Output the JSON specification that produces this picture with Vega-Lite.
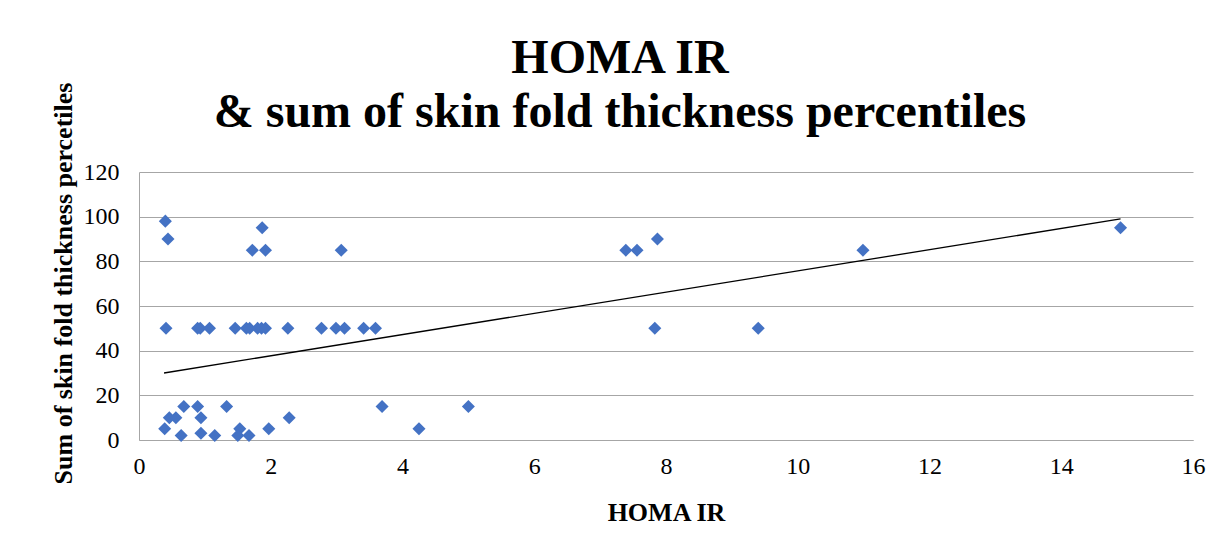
{
  "$schema": "https://vega.github.io/schema/vega-lite/v6.json",
  "width": 1054,
  "height": 268,
  "autosize": {"type": "none"},
  "padding": {"left": 139, "top": 172, "right": 34, "bottom": 113},
  "background": "white",
  "title": {
    "text": ["HOMA IR", "& sum of skin fold thickness percentiles"],
    "font": "Liberation Serif",
    "fontSize": 48,
    "fontWeight": "bold",
    "color": "black",
    "lineHeight": 54,
    "anchor": "middle",
    "frame": "group",
    "dx": -46,
    "dy": 55,
    "offset": 0
  },
  "datasets": {
    "points": [
      {"homa": 0.40, "skin": 98},
      {"homa": 0.44, "skin": 90},
      {"homa": 1.87, "skin": 95},
      {"homa": 1.72, "skin": 85},
      {"homa": 1.92, "skin": 85},
      {"homa": 3.07, "skin": 85},
      {"homa": 7.39, "skin": 85},
      {"homa": 7.56, "skin": 85},
      {"homa": 7.87, "skin": 90},
      {"homa": 10.99, "skin": 85},
      {"homa": 14.90, "skin": 95},
      {"homa": 0.41, "skin": 50},
      {"homa": 0.89, "skin": 50},
      {"homa": 0.93, "skin": 50},
      {"homa": 1.07, "skin": 50},
      {"homa": 1.46, "skin": 50},
      {"homa": 1.63, "skin": 50},
      {"homa": 1.68, "skin": 50},
      {"homa": 1.80, "skin": 50},
      {"homa": 1.86, "skin": 50},
      {"homa": 1.92, "skin": 50},
      {"homa": 2.26, "skin": 50},
      {"homa": 2.77, "skin": 50},
      {"homa": 2.99, "skin": 50},
      {"homa": 3.12, "skin": 50},
      {"homa": 3.41, "skin": 50},
      {"homa": 3.59, "skin": 50},
      {"homa": 7.83, "skin": 50},
      {"homa": 9.40, "skin": 50},
      {"homa": 0.68, "skin": 15},
      {"homa": 0.89, "skin": 15},
      {"homa": 1.33, "skin": 15},
      {"homa": 3.69, "skin": 15},
      {"homa": 5.00, "skin": 15},
      {"homa": 0.46, "skin": 10},
      {"homa": 0.56, "skin": 10},
      {"homa": 0.94, "skin": 10},
      {"homa": 2.28, "skin": 10},
      {"homa": 0.39, "skin": 5},
      {"homa": 1.53, "skin": 5},
      {"homa": 1.97, "skin": 5},
      {"homa": 4.25, "skin": 5},
      {"homa": 0.64, "skin": 2},
      {"homa": 0.94, "skin": 3},
      {"homa": 1.15, "skin": 2},
      {"homa": 1.50, "skin": 2},
      {"homa": 1.67, "skin": 2}
    ],
    "trend": [
      {"homa": 0.38, "skin": 30.0},
      {"homa": 14.90, "skin": 99.0}
    ]
  },
  "encoding": {
    "x": {
      "field": "homa",
      "type": "quantitative",
      "scale": {"domain": [0, 16], "nice": false, "zero": false},
      "axis": {
        "title": "HOMA IR",
        "values": [0, 2, 4, 6, 8, 10, 12, 14, 16],
        "grid": false,
        "ticks": false,
        "domainColor": "#A6A6A6",
        "domainWidth": 1,
        "labelFont": "Liberation Serif",
        "labelFontSize": 24,
        "labelColor": "black",
        "labelPadding": 14,
        "labelFlush": false,
        "titleFont": "Liberation Serif",
        "titleFontSize": 26,
        "titleFontWeight": "bold",
        "titleColor": "black",
        "titleBaseline": "alphabetic",
        "titleY": 80
      }
    },
    "y": {
      "field": "skin",
      "type": "quantitative",
      "scale": {"domain": [0, 120], "nice": false, "zero": false},
      "axis": {
        "title": "Sum of skin fold thickness percetiles",
        "values": [0, 20, 40, 60, 80, 100, 120],
        "grid": true,
        "gridColor": "#A6A6A6",
        "gridWidth": 1,
        "ticks": false,
        "domainColor": "#A6A6A6",
        "domainWidth": 1,
        "labelFont": "Liberation Serif",
        "labelFontSize": 24,
        "labelColor": "black",
        "labelPadding": 20,
        "labelFlush": false,
        "titleFont": "Liberation Serif",
        "titleFontSize": 26,
        "titleFontWeight": "bold",
        "titleColor": "black",
        "titleBaseline": "alphabetic",
        "titleX": -68,
        "titleY": 111
      }
    }
  },
  "layer": [
    {
      "data": {"name": "trend"},
      "mark": {"type": "line", "color": "black", "strokeWidth": 1.3}
    },
    {
      "data": {"name": "points"},
      "mark": {"type": "point", "shape": "diamond", "filled": true, "color": "#4472C4", "size": 170, "opacity": 1}
    }
  ],
  "config": {
    "view": {"stroke": null}
  }
}
